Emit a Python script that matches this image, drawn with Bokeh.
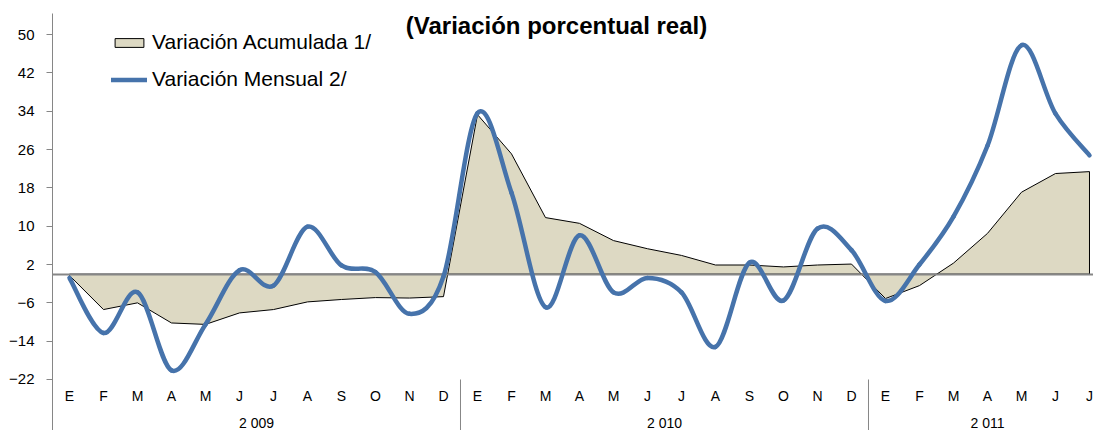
import numpy as np
from bokeh.plotting import figure
from bokeh.models import (Range1d, FixedTicker, Legend, LegendItem,
                          Label, ColumnDataSource)
from bokeh.core.properties import value
from bokeh.embed import file_html
from bokeh.resources import INLINE

# ---------------- data ----------------
months = ["E", "F", "M", "A", "M", "J", "J", "A", "S", "O", "N", "D",
          "E", "F", "M", "A", "M", "J", "J", "A", "S", "O", "N", "D",
          "E", "F", "M", "A", "M", "J", "J"]
years = ["2 009", "2 010", "2 011"]
months_per_year = [12, 12, 7]

acumulada = [-0.3, -7.4, -6.0, -10.2, -10.5, -8.1, -7.4, -5.8, -5.3, -4.9, -5.0, -4.7,
             33.3, 25.1, 11.8, 10.6, 7.0, 5.3, 3.9, 1.9, 1.9, 1.5, 1.9, 2.1,
             -5.1, -2.4, 2.3, 8.5, 17.1, 21.0, 21.4]
mensual = [-0.8, -12.3, -3.8, -20.1, -10.5, 0.8, -2.4, 9.9, 1.8, 0.4, -8.3, -0.5,
           33.6, 17.0, -6.9, 8.1, -3.8, -0.8, -3.8, -15.2, 2.4, -5.5, 9.5, 5.0,
           -5.6, 2.0, 12.0, 26.8, 47.8, 33.5, 24.8]
y_ticks = [-22, -14, -6, 2, 10, 18, 26, 34, 42, 50]

title_text = "(Variación porcentual real)"
label_acum = "Variación Acumulada 1/"
label_mens = "Variación Mensual 2/"

# ---------------- styles / layout ----------------
FONT = "Liberation Sans"
TAN = "#DDD9C3"
BLUE = "#4673AB"
GRAY = "#868686"
Y_MIN_AXIS = -22.0          # where the category axis sits
Y_BOTTOM = -32.65           # frame extends below the axis for the labels
Y_TOP = 54.41
MONTH_LABEL_Y = -25.55
YEAR_LABEL_Y = -31.1

n = len(months)
xs = np.arange(n, dtype=float)

starts = np.cumsum([0] + months_per_year[:-1])
year_centers = [float(s + (c - 1) / 2) for s, c in zip(starts, months_per_year)]
separators = [float(s - 0.5) for s in starts[1:]]

p = figure(width=1093, height=430,
           x_range=Range1d(-0.5, 30.118), y_range=Range1d(Y_BOTTOM, Y_TOP),
           output_backend="svg", toolbar_location=None,
           min_border_left=52, min_border_right=0, min_border_top=13,
           min_border_bottom=0, x_axis_location=None)
p.outline_line_color = None
p.grid.visible = False
p.background_fill_color = "white"
p.border_fill_color = "white"

# area (accumulated) as a polygon closed to zero
area_x = np.concatenate([[xs[0]], xs, [xs[-1]]])
area_y = np.concatenate([[0.0], np.array(acumulada), [0.0]])
area_r = p.patch(area_x, area_y, fill_color=TAN, line_color="black", line_width=1)

# zero line
p.hspan(y=[0], line_color=GRAY, line_width=2)

# smoothed monthly line: cubic bezier segments through the data points
m = np.array(mensual, dtype=float)
P = np.column_stack([xs, m])
P0 = np.vstack([P[0], P[:-2]])
P1 = P[:-1]
P2 = P[1:]
P3 = np.vstack([P[2:], P[-1]])
C1 = P1 + (P2 - P0) / 6.0
C2 = P2 - (P3 - P1) / 6.0
bz = ColumnDataSource(dict(x0=P1[:, 0], y0=P1[:, 1], x1=P2[:, 0], y1=P2[:, 1],
                           cx0=C1[:, 0], cy0=C1[:, 1], cx1=C2[:, 0], cy1=C2[:, 1]))
line_r = p.bezier("x0", "y0", "x1", "y1", "cx0", "cy0", "cx1", "cy1", source=bz,
                  line_color=BLUE, line_width=4.5, line_cap="round")

# category labels and year separators (drawn below the axis level)
p.segment(x0=separators, y0=[Y_MIN_AXIS] * len(separators),
          x1=separators, y1=[Y_BOTTOM] * len(separators),
          line_color=GRAY, line_width=1)
p.text(x=xs, y=[MONTH_LABEL_Y] * n, text=months,
       text_font=value(FONT), text_font_size=value("14px"), text_color="black",
       text_align="center", text_baseline="middle")
p.text(x=year_centers, y=[YEAR_LABEL_Y] * len(years), text=years,
       text_font=value(FONT), text_font_size=value("14px"), text_color="black",
       text_align="center", text_baseline="middle")

# y axis
ya = p.yaxis[0]
ya.ticker = FixedTicker(ticks=y_ticks)
ya.axis_line_color = GRAY
ya.major_tick_line_color = GRAY
ya.major_tick_out = 6
ya.major_tick_in = 0
ya.minor_tick_line_color = None
ya.major_label_text_font = FONT
ya.major_label_text_font_size = "15px"
ya.major_label_text_color = "black"
ya.major_label_standoff = 12

# legend
legend = Legend(items=[LegendItem(label=label_acum, renderers=[area_r]),
                       LegendItem(label=label_mens, renderers=[line_r])],
                location=(59, 339), padding=0, margin=0, spacing=13,
                glyph_width=36, glyph_height=11, label_height=24, label_standoff=5,
                border_line_color=None, background_fill_alpha=0,
                label_text_font=FONT, label_text_font_size="21px",
                label_text_color="black")
p.add_layout(legend)

# title
title = Label(x=504, y=405, x_units="screen", y_units="screen", text=title_text,
              text_align="center", text_baseline="alphabetic",
              text_font=FONT, text_font_style="bold", text_font_size="24px",
              text_color="black")
p.add_layout(title)

open("out.html", "w").write(file_html(p, INLINE))
